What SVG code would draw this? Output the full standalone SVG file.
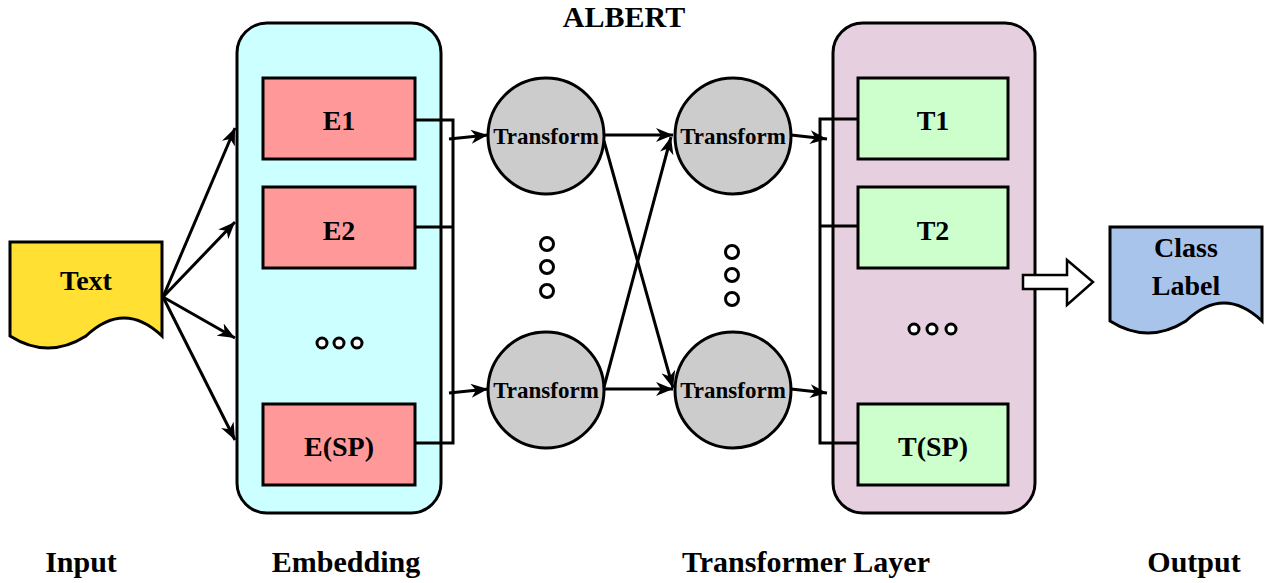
<svg xmlns="http://www.w3.org/2000/svg" width="1266" height="583" viewBox="0 0 1266 583">
<style>
  text { font-family: "Liberation Serif", "Times New Roman", serif; font-weight: bold; fill: #000; text-anchor: middle; }
  .lbl { font-size: 30px; }
  .box { font-size: 28px; }
  .tf { font-size: 23px; }
  .ln { fill: none; stroke: #000; stroke-width: 3; }
  .arr { fill: none; stroke: #000; stroke-width: 3; marker-end: url(#ah); }
  .edge { stroke: #000; stroke-width: 3; }
  .dot { fill: #fff; stroke: #000; stroke-width: 3; }
</style>
<defs>
  <marker id="ah" markerUnits="userSpaceOnUse" markerWidth="18" markerHeight="14" refX="17" refY="7" orient="auto">
    <path d="M0,0 L17,7 L0,14 L5,7 Z" fill="#000"/>
  </marker>
</defs>
<rect width="1266" height="583" fill="#fff"/>

<g id="title"><text class="lbl" x="624" y="27">ALBERT</text></g>

<g id="input-doc">
  <path class="edge" d="M10,242 H162 V336 Q124,300 86,336 Q48,360 10,336 Z" fill="#FFE033"/>
  <text class="box" x="86" y="290">Text</text>
</g>

<g id="embedding">
  <rect class="edge" x="237" y="23" width="204" height="490" rx="30" fill="#CCFFFF"/>
</g>
<g id="e1"><rect class="edge" x="263" y="78" width="152" height="81" fill="#FF9999"/><text class="box" x="339" y="130">E1</text></g>
<g id="e2"><rect class="edge" x="263" y="187" width="152" height="81" fill="#FF9999"/><text class="box" x="339" y="240">E2</text></g>
<g id="esp"><rect class="edge" x="263" y="404" width="152" height="81" fill="#FF9999"/><text class="box" x="339" y="456">E(SP)</text></g>
<g id="edots"><circle class="dot" cx="322" cy="343" r="5"/><circle class="dot" cx="339" cy="343" r="5"/><circle class="dot" cx="357" cy="343" r="5"/></g>

<g id="transformer-layer">
  <rect class="edge" x="833" y="23" width="202" height="490" rx="30" fill="#E6CFDF"/>
</g>
<g id="t1"><rect class="edge" x="858" y="78" width="150" height="81" fill="#CCFFCC"/><text class="box" x="933" y="130">T1</text></g>
<g id="t2"><rect class="edge" x="858" y="187" width="150" height="81" fill="#CCFFCC"/><text class="box" x="933" y="240">T2</text></g>
<g id="tsp"><rect class="edge" x="858" y="404" width="150" height="81" fill="#CCFFCC"/><text class="box" x="933" y="456">T(SP)</text></g>
<g id="tdots"><circle class="dot" cx="914" cy="329" r="5"/><circle class="dot" cx="932" cy="329" r="5"/><circle class="dot" cx="951" cy="329" r="5"/></g>

<g id="tf1"><circle class="edge" cx="546" cy="136" r="58" fill="#CCCCCC"/><text class="tf" x="546" y="144">Transform</text></g>
<g id="tf2"><circle class="edge" cx="546" cy="390" r="58" fill="#CCCCCC"/><text class="tf" x="546" y="398">Transform</text></g>
<g id="tf3"><circle class="edge" cx="733" cy="136" r="58" fill="#CCCCCC"/><text class="tf" x="733" y="144">Transform</text></g>
<g id="tf4"><circle class="edge" cx="733" cy="390" r="58" fill="#CCCCCC"/><text class="tf" x="733" y="398">Transform</text></g>
<g id="vdots">
  <circle class="dot" cx="547" cy="244" r="6.5"/><circle class="dot" cx="547" cy="267" r="6.5"/><circle class="dot" cx="547" cy="291" r="6.5"/>
  <circle class="dot" cx="732" cy="252" r="6.5"/><circle class="dot" cx="732" cy="275" r="6.5"/><circle class="dot" cx="732" cy="299" r="6.5"/>
</g>

<g id="output-doc">
  <path class="edge" d="M1110,227 H1262 V321 Q1224,285 1186,321 Q1148,345 1110,321 Z" fill="#A9C4EB"/>
  <text class="box" x="1186" y="257">Class</text>
  <text class="box" x="1186" y="295">Label</text>
</g>

<g id="connectors">
  <path class="arr" d="M163,297 L235,128"/>
  <path class="arr" d="M163,297 L235,222"/>
  <path class="arr" d="M163,297 L235,338"/>
  <path class="arr" d="M163,297 L235,440"/>
  <path class="ln" d="M415,120 H453 V443 H415 M415,227 H453"/>
  <path class="arr" d="M449,139 L488,135"/>
  <path class="arr" d="M449,393 L488,389"/>
  <path class="arr" d="M604,135 L673,135"/>
  <path class="arr" d="M604,389 L673,389"/>
  <path class="arr" d="M604,141 L673,388"/>
  <path class="arr" d="M604,387 L671,137"/>
  <path class="arr" d="M791,135 L827,139"/>
  <path class="arr" d="M791,389 L827,393"/>
  <path class="ln" d="M858,119 H820 V443 H858 M858,226 H820"/>
  <path d="M1023,275 H1067 V260 L1093,282 L1067,305 V289 H1023 Z" fill="#fff" stroke="#000" stroke-width="2.5"/>
</g>

<g id="labels">
  <text class="lbl" x="81" y="572">Input</text>
  <text class="lbl" x="346" y="572">Embedding</text>
  <text class="lbl" x="806" y="572">Transformer Layer</text>
  <text class="lbl" x="1194" y="572">Output</text>
</g>
</svg>
